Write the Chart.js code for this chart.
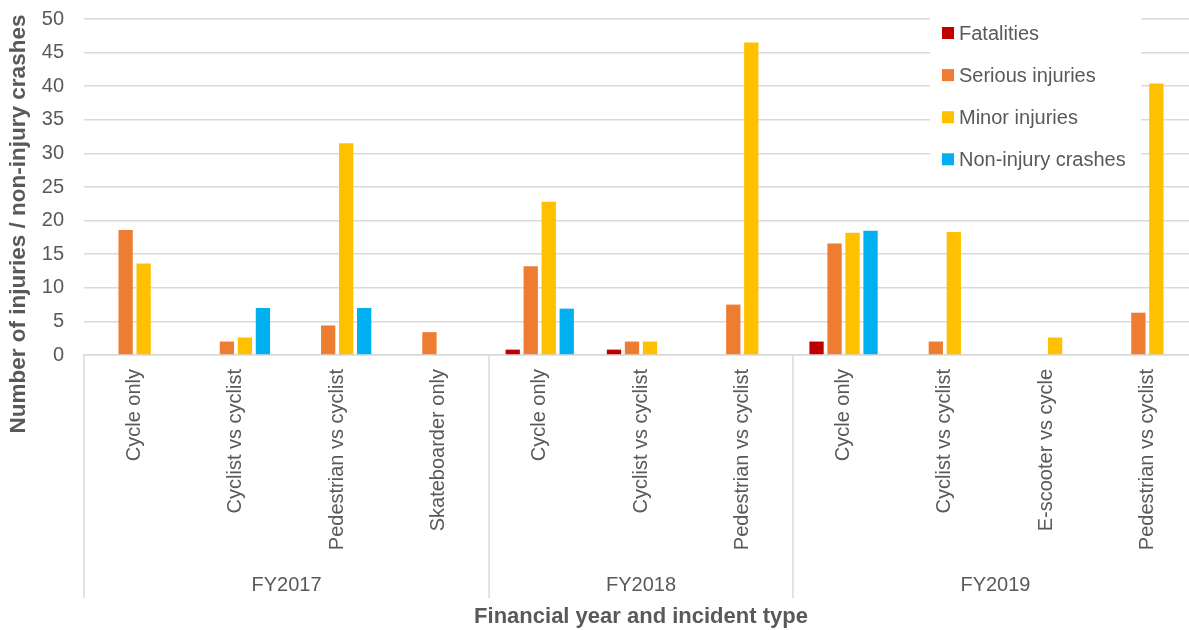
<!DOCTYPE html>
<html>
<head>
<meta charset="utf-8">
<title>Injuries and crashes by incident type</title>
<script src="https://cdn.jsdelivr.net/npm/chart.js@4.4.0/dist/chart.umd.min.js"></script>
<style>
  html, body { margin: 0; padding: 0; background: #fff; overflow: hidden; }
  #wrap { width: 1200px; height: 630px; }
</style>
</head>
<body>
<div id="wrap"><canvas id="crashChart" width="1200" height="630"></canvas></div>
<script>
// ── Data ────────────────────────────────────────────
const incidentTypes = [
    'Cycle only', 'Cyclist vs cyclist', 'Pedestrian vs cyclist', 'Skateboarder only',
    'Cycle only', 'Cyclist vs cyclist', 'Pedestrian vs cyclist',
    'Cycle only', 'Cyclist vs cyclist', 'E-scooter vs cycle', 'Pedestrian vs cyclist'
];
const financialYears = ['FY2017', 'FY2018', 'FY2019'];
const typesPerYear = [4, 3, 4];

const fatalities     = [0,    0,   0,    0,   0.8,  0.8, 0,    2,    0,    0,   0];
const seriousInjury  = [18.6, 2,   4.4,  3.4, 13.2, 2,   7.5,  16.6, 2,    0,   6.3];
const minorInjury    = [13.6, 2.6, 31.5, 0,   22.8, 2,   46.5, 18.2, 18.3, 2.6, 40.4];
const nonInjury      = [0,    7,   7,    0,   6.9,  0,   0,    18.5, 0,    0,   0];

const yTicks = [0, 5, 10, 15, 20, 25, 30, 35, 40, 45, 50];

// ── Style ───────────────────────────────────────────
const FONT = "'Liberation Sans', Arial, sans-serif";
const TEXT = '#595959';
const GRID = '#d9d9d9';

const series = [
    { label: 'Fatalities',         data: fatalities,    color: '#c00000' },
    { label: 'Serious injuries',   data: seriousInjury, color: '#ed7d31' },
    { label: 'Minor injuries',     data: minorInjury,   color: '#ffc000' },
    { label: 'Non-injury crashes', data: nonInjury,     color: '#00b0f0' }
];

// legend box inside the plot, top right
const legendBox = {
    id: 'legendBox',
    beforeDatasetsDraw(chart) {
        const ctx = chart.ctx;
        ctx.save();
        ctx.fillStyle = '#fff';
        ctx.fillRect(930, 8, 211, 170);
        ctx.font = '20px ' + FONT;
        ctx.textBaseline = 'middle';
        ctx.textAlign = 'left';
        series.forEach((s, i) => {
            const y = 33 + i * 42.1;
            ctx.fillStyle = s.color;
            ctx.fillRect(942, y - 6, 12, 12);
            ctx.fillStyle = TEXT;
            ctx.fillText(s.label, 959, y + 1);
        });
        ctx.restore();
    }
};

// second level of the category axis: year separators and labels, plus y title
const yearAxis = {
    id: 'yearAxis',
    afterDraw(chart) {
        const ctx = chart.ctx;
        const x = chart.scales.x;
        const area = chart.chartArea;
        const half = (x.getPixelForValue(1) - x.getPixelForValue(0)) / 2;
        ctx.save();
        ctx.strokeStyle = GRID;
        ctx.lineWidth = 1.5;
        let idx = 0;
        const edges = [x.getPixelForValue(0) - half];
        typesPerYear.forEach(n => { idx += n; edges.push(x.getPixelForValue(idx - 1) + half); });
        edges.forEach(px => {
            ctx.beginPath();
            ctx.moveTo(px, area.bottom);
            ctx.lineTo(px, 598);
            ctx.stroke();
        });
        ctx.fillStyle = TEXT;
        ctx.font = '20px ' + FONT;
        ctx.textAlign = 'center';
        ctx.textBaseline = 'middle';
        financialYears.forEach((fy, i) => {
            ctx.fillText(fy, (edges[i] + edges[i + 1]) / 2, 585);
        });

        ctx.translate(19, 224);
        ctx.rotate(-Math.PI / 2);
        ctx.font = 'bold 22.5px ' + FONT;
        ctx.fillText('Number of injuries / non-injury crashes', 0, 0);
        ctx.restore();
    }
};

new Chart(document.getElementById('crashChart'), {
    type: 'bar',
    data: {
        labels: incidentTypes,
        datasets: series.map(s => ({
            label: s.label,
            data: s.data,
            backgroundColor: s.color,
            borderWidth: 0,
            categoryPercentage: 0.711,
            barPercentage: 0.794
        }))
    },
    options: {
        responsive: false,
        animation: false,
        layout: { padding: { top: 19, right: 2, bottom: 0, left: 0 } },
        plugins: {
            legend: { display: false },
            tooltip: { enabled: false }
        },
        scales: {
            x: {
                grid: { display: false, drawTicks: false },
                border: { display: true, color: GRID, width: 1.5 },
                ticks: {
                    color: TEXT,
                    font: { family: FONT, size: 20 },
                    minRotation: 90,
                    maxRotation: 90,
                    autoSkip: false,
                    padding: 14
                },
                title: {
                    display: true,
                    text: 'Financial year and incident type',
                    color: TEXT,
                    font: { family: FONT, size: 22, weight: 'bold' },
                    padding: { top: 0, bottom: 0 }
                },
                afterFit: s => { s.height = 275; }
            },
            y: {
                min: 0,
                max: 50,
                afterBuildTicks: s => { s.ticks = yTicks.map(v => ({ value: v })); },
                grid: { color: GRID, lineWidth: 1.5, drawTicks: false },
                border: { display: false },
                ticks: {
                    color: TEXT,
                    font: { family: FONT, size: 20 },
                    padding: 20
                },
                afterFit: s => {
                    s.width = 84;
                    s.paddingTop = 0;
                    s.paddingBottom = 0;
                }
            }
        }
    },
    plugins: [legendBox, yearAxis]
});
</script>
</body>
</html>
